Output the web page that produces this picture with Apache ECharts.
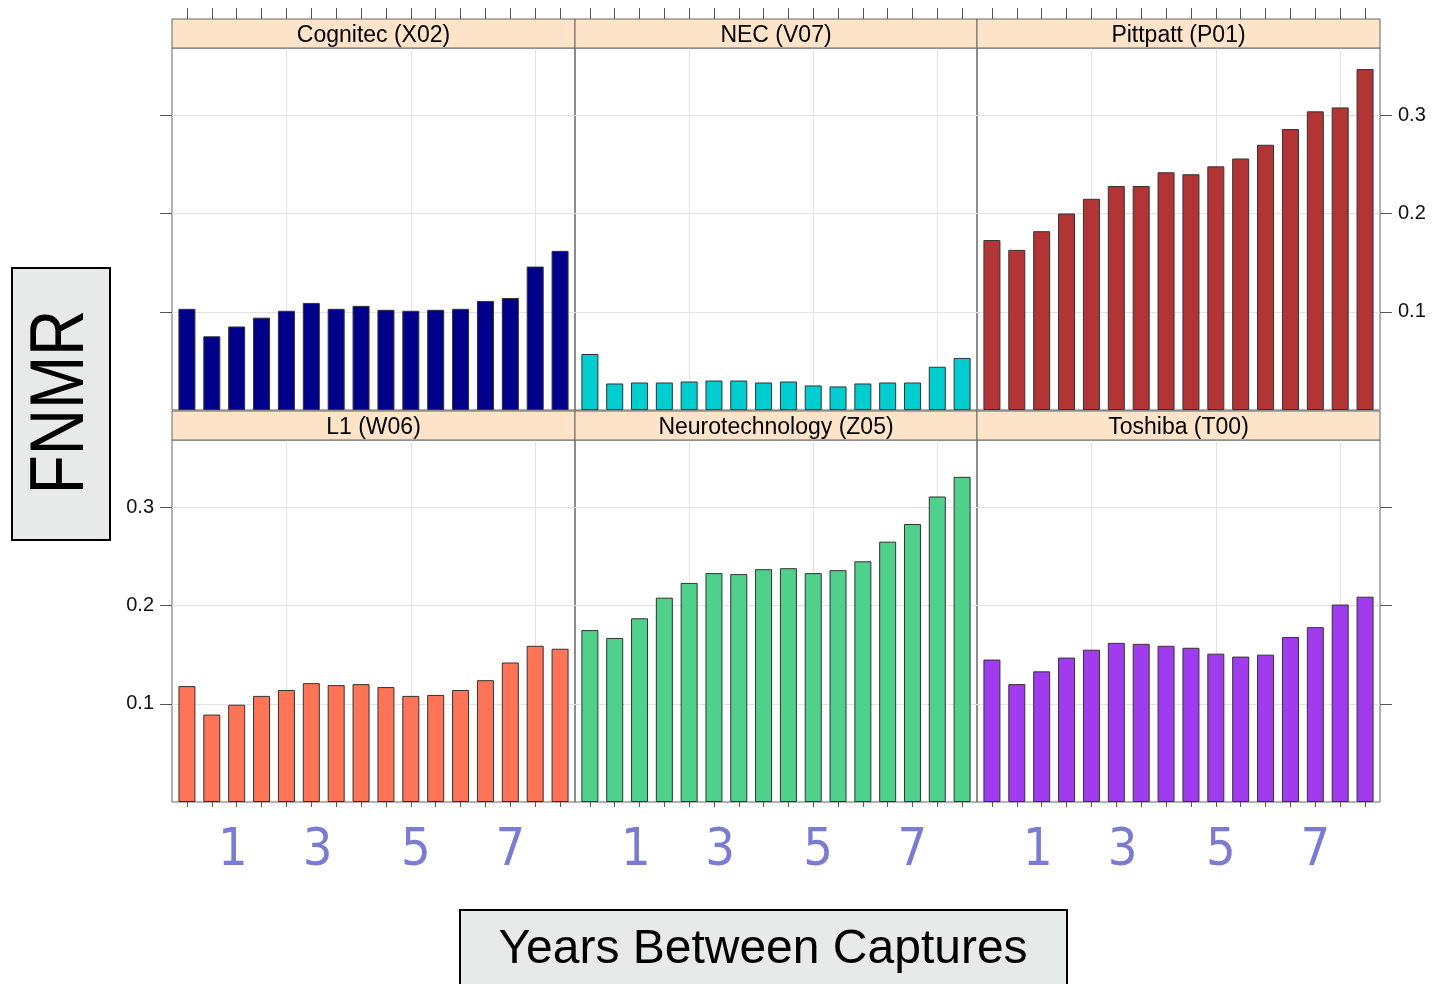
<!DOCTYPE html>
<html>
<head>
<meta charset="utf-8">
<title>FNMR by years between captures</title>
<script src="https://cdn.jsdelivr.net/npm/echarts@6/dist/echarts.min.js"></script>
<style>
  html, body { margin: 0; padding: 0; background: #fff; }
  #chart { width: 1435px; height: 984px; }
</style>
</head>
<body>
<div id="chart"></div>
<script>
// FNMR per half-year bin, 16 bins per matcher
var bins = [1, 2, 3, 4, 5, 6, 7, 8, 9, 10, 11, 12, 13, 14, 15, 16]
var cognitec = [0.103, 0.075, 0.085, 0.094, 0.101, 0.109, 0.103, 0.106, 0.102, 0.101, 0.102, 0.103, 0.111, 0.114, 0.146, 0.162]
var nec = [0.057, 0.027, 0.028, 0.028, 0.029, 0.030, 0.030, 0.028, 0.029, 0.025, 0.024, 0.027, 0.028, 0.028, 0.044, 0.053]
var pittpatt = [0.173, 0.163, 0.182, 0.200, 0.215, 0.228, 0.228, 0.242, 0.240, 0.248, 0.256, 0.270, 0.286, 0.304, 0.308, 0.347]
var l1 = [0.118, 0.089, 0.099, 0.108, 0.114, 0.121, 0.119, 0.120, 0.117, 0.108, 0.109, 0.114, 0.124, 0.142, 0.159, 0.156]
var neuro = [0.175, 0.167, 0.187, 0.208, 0.223, 0.233, 0.232, 0.237, 0.238, 0.233, 0.236, 0.245, 0.265, 0.283, 0.311, 0.331]
var toshiba = [0.145, 0.120, 0.133, 0.147, 0.155, 0.162, 0.161, 0.159, 0.157, 0.151, 0.148, 0.150, 0.168, 0.178, 0.201, 0.209]

var panelNames = ['Cognitec (X02)', 'NEC (V07)', 'Pittpatt (P01)', 'L1 (W06)', 'Neurotechnology (Z05)', 'Toshiba (T00)']
var panelValues = [cognitec, nec, pittpatt, l1, neuro, toshiba]
var panelColors = ['#00008b', '#00cdd0', '#b23434', '#ff7456', '#4fd18b', '#a03cee']

var yTicks = [0.1, 0.2, 0.3]
var yearLabels = ['1', '3', '5', '7']
var yearLabelPos = [2.85, 6.25, 10.2, 14.0]
var vGridLines = [5, 10, 15]

// layout
var colLeft = [172, 575, 977]
var colWidth = [403, 402, 403]
var rowTop = [48, 440]
var plotH = 362
var stripH = 29
var font = '"Liberation Sans", Arial, Helvetica, sans-serif'

var grids = []
var xAxes = []
var yAxes = []
var series = []
var graphics = []

panelValues.forEach(function(values, i) {
  var row = Math.floor(i / 3)
  var col = i % 3
  var top = row === 0

  grids.push({
    left: colLeft[col], top: rowTop[row], width: colWidth[col], height: plotH,
    show: true, borderColor: '#666', borderWidth: 1, backgroundColor: 'transparent',
    outerBoundsMode: 'none'
  })

  xAxes.push({
    gridIndex: i, type: 'value', min: 0.4, max: 16.6,
    position: top ? 'top' : 'bottom',
    offset: top ? stripH : 0,
    z: 20,
    axisLine: { show: false, onZero: false },
    axisTick: { show: true, customValues: bins, length: top ? 11 : 5, lineStyle: { color: '#555', width: 1 } },
    axisLabel: top ? { show: false } : {
      show: true, customValues: yearLabelPos, margin: 23,
      color: '#7b7bd4', fontSize: 52, fontFamily: '"Liberation Sans Narrow", "DejaVu Sans Condensed", ' + font,
      formatter: function(v) {
        for (var k = 0; k < yearLabelPos.length; k++) {
          if (Math.abs(yearLabelPos[k] - v) < 1e-6) return yearLabels[k]
        }
        return ''
      }
    },
    splitLine: { show: false }
  })

  // lattice alternating axes: ticks on outer sides, labels alternate
  var showTick = col !== 1
  var showLabel = (row === 0 && col === 2) || (row === 1 && col === 0)
  var onRight = col === 2
  yAxes.push({
    gridIndex: i, type: 'value', min: 0, max: 0.3685, interval: 0.1,
    position: onRight ? 'right' : 'left',
    axisLine: { show: false, onZero: false },
    axisTick: { show: showTick, customValues: yTicks, length: 12, lineStyle: { color: '#555', width: 1 } },
    axisLabel: { show: showLabel, customValues: yTicks, margin: 18, color: '#111', fontSize: 20, fontFamily: font },
    splitLine: { show: true, lineStyle: { color: '#e3e3e3', width: 1 } }
  })

  series.push({
    type: 'bar', name: panelNames[i], xAxisIndex: i, yAxisIndex: i,
    data: values.map(function(v, k) { return [bins[k], v] }),
    barWidth: 17,
    itemStyle: { color: panelColors[i], borderColor: '#333', borderWidth: 1 },
    emphasis: { disabled: true },
    animation: false,
    markLine: {
      silent: true, symbol: 'none', z: 1, animation: false,
      label: { show: false },
      lineStyle: { color: '#e3e3e3', width: 1, type: 'solid' },
      data: vGridLines.map(function(x) { return { xAxis: x } })
    }
  })

  // strip
  graphics.push({
    type: 'rect', z: 10,
    shape: { x: colLeft[col], y: rowTop[row] - stripH, width: colWidth[col], height: stripH },
    style: { fill: '#fde4c9', stroke: '#666', lineWidth: 1 }
  })
  graphics.push({
    type: 'text', z: 11,
    x: colLeft[col] + colWidth[col] / 2, y: rowTop[row] - stripH / 2 + 2,
    style: { text: panelNames[i], font: '23px ' + font, fill: '#000', align: 'center', verticalAlign: 'middle' }
  })
})

// axis title boxes
graphics.push({
  type: 'rect', z: 12,
  shape: { x: 12, y: 268, width: 98, height: 272 },
  style: { fill: '#e8e9e9', stroke: '#000', lineWidth: 2 }
})
graphics.push({
  type: 'text', z: 13, x: 62, y: 402, rotation: Math.PI / 2, scaleX: 0.84,
  style: { text: 'FNMR', font: '76px ' + font, fill: '#000', align: 'center', verticalAlign: 'middle' }
})
graphics.push({
  type: 'rect', z: 12,
  shape: { x: 460, y: 910, width: 607, height: 90 },
  style: { fill: '#e8e9e9', stroke: '#000', lineWidth: 2 }
})
graphics.push({
  type: 'text', z: 13, x: 763, y: 950,
  style: { text: 'Years Between Captures', font: '48px ' + font, fill: '#000', align: 'center', verticalAlign: 'middle' }
})

var chart = echarts.init(document.getElementById('chart'), null, { renderer: 'canvas' })
chart.setOption({
  backgroundColor: '#fff',
  animation: false,
  grid: grids,
  xAxis: xAxes,
  yAxis: yAxes,
  series: series,
  graphic: graphics
})
</script>
</body>
</html>
